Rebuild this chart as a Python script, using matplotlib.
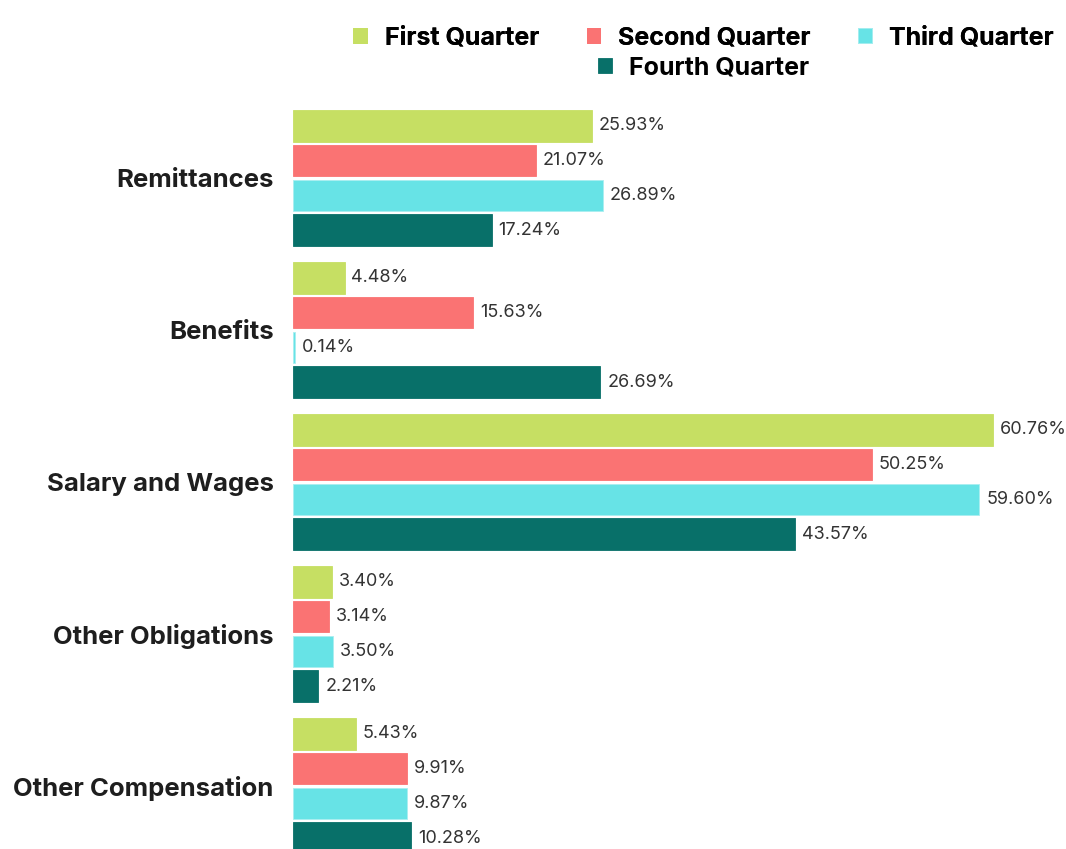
import matplotlib
matplotlib.use("Agg")
import matplotlib.pyplot as plt
import numpy as np

plt.rcParams['font.family'] = ['Inter', 'DejaVu Sans']

categorias = ['Remittances', 'Benefits', 'Salary and Wages', 'Other Obligations', 'Other Compensation']
trimestres = ['First Quarter', 'Second Quarter', 'Third Quarter', 'Fourth Quarter']
primeiro = [25.93, 4.48, 60.76, 3.40, 5.43]
segundo = [21.07, 15.63, 50.25, 3.14, 9.91]
terceiro = [26.89, 0.14, 59.60, 3.50, 9.87]
quarto = [17.24, 26.69, 43.57, 2.21, 10.28]
cores = ['#c6df63', '#fa7373', '#67e3e6', '#087069']

series = [primeiro, segundo, terceiro, quarto]

fig = plt.figure(figsize=(10.66, 8.49), dpi=100)
# eixo passa um pouco da borda de baixo, como no original
ax = fig.add_axes([293 / 1066, 1 - 862 / 849, 760 / 1066, 760 / 849])

y = np.arange(len(categorias))
passo = 0.23
altura = 0.21
barras = []
for i, (vals, cor) in enumerate(zip(series, cores)):
    pos = y + (i - 1.5) * passo
    b = ax.barh(pos, vals, height=altura, color=cor, edgecolor=cor if i != 2 else '#a9eef0',
                linewidth=0.6, label=trimestres[i])
    barras.append(b)
    for p, v in zip(pos, vals):
        ax.text(v + 0.6, p, f'{v:.2f}%', va='center', ha='left', fontsize=13,
                color='#333333', clip_on=False)

ax.set_xlim(0, 66)
ax.set_ylim(4.5, -0.5)
ax.set_yticks(y)
ax.set_yticklabels(categorias, fontsize=18.5, fontweight='bold', color='#1e1e1e')
ax.tick_params(axis='y', length=0, pad=14)
ax.set_xticks([])
for s in ax.spines.values():
    s.set_visible(False)

# legenda em duas linhas, centralizada
fonte_leg = {'family': ['Inter', 'DejaVu Sans'], 'weight': 'bold', 'size': 18}
leg1 = fig.legend(barras[:3], trimestres[:3], loc='center', bbox_to_anchor=(0.66, 1 - 38 / 849),
                  ncol=3, frameon=False, handlelength=0.55, handleheight=0.55, handletextpad=0.7,
                  columnspacing=1.9, prop=fonte_leg)
fig.add_artist(leg1)
fig.legend(barras[3:], trimestres[3:], loc='center', bbox_to_anchor=(0.66, 1 - 68 / 849),
           ncol=1, frameon=False, handlelength=0.55, handleheight=0.55, handletextpad=0.7,
           prop=fonte_leg)

fig.savefig('out.png', dpi=100)
